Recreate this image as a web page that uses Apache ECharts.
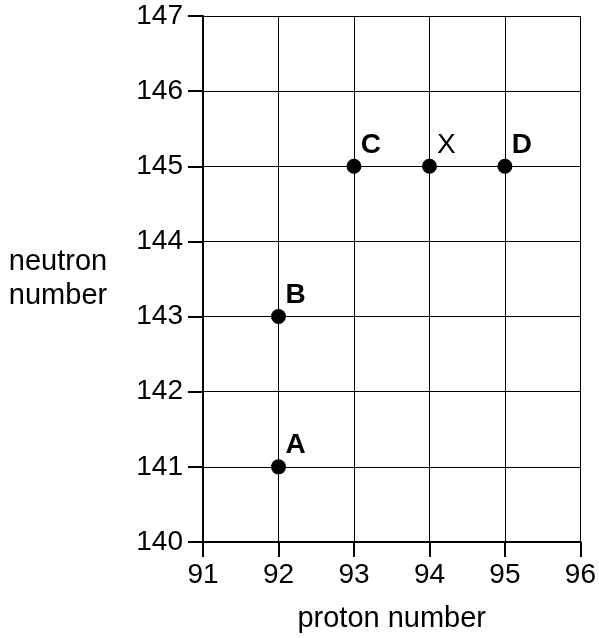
<!DOCTYPE html>
<html>
<head>
<meta charset="utf-8">
<script src="https://cdn.jsdelivr.net/npm/echarts@6/dist/echarts.min.js"></script>
<style>
  html, body { margin: 0; padding: 0; background: #fff; }
  #chart { width: 599px; height: 638px; }
</style>
</head>
<body>
<div id="chart"></div>
<script>
const pointNames = ['A', 'B', 'C', 'X', 'D']
const protonNumbers = [92, 92, 93, 94, 95]
const neutronNumbers = [141, 143, 145, 145, 145]
const boldLabels = [true, true, true, false, true]

const font = 'Liberation Sans, Arial, sans-serif'

const chart = echarts.init(document.getElementById('chart'))

// one data item per nuclide, X label is plain weight
const points = pointNames.map((name, i) => ({
  name,
  value: [protonNumbers[i], neutronNumbers[i]],
  label: { fontWeight: boldLabels[i] ? 'bold' : 'normal' }
}))

const axisCommon = {
  type: 'value',
  interval: 1,
  axisLine: { show: true, lineStyle: { color: '#000', width: 2 } },
  axisTick: { show: true, length: 15, lineStyle: { color: '#000', width: 2 } },
  axisLabel: { color: '#000', fontSize: 28, fontFamily: font },
  splitLine: { show: true, lineStyle: { color: '#000', width: 1 } },
  nameTextStyle: { color: '#000', fontSize: 29, fontFamily: font }
}

chart.setOption({
  animation: false,
  grid: { left: 203, right: 18, top: 16, bottom: 95 },
  xAxis: {
    ...axisCommon,
    min: 91,
    max: 96,
    name: 'proton number',
    nameLocation: 'middle',
    nameGap: 62,
    axisLabel: { ...axisCommon.axisLabel, margin: 19 }
  },
  yAxis: {
    ...axisCommon,
    min: 140,
    max: 147,
    name: 'neutron\nnumber',
    nameLocation: 'middle',
    nameRotate: 0,
    nameGap: 145,
    nameTextStyle: { ...axisCommon.nameTextStyle, align: 'center', lineHeight: 34 },
    axisLabel: { ...axisCommon.axisLabel, margin: 20 }
  },
  series: [{
    type: 'scatter',
    data: points,
    symbol: 'circle',
    symbolSize: 15,
    itemStyle: { color: '#000', opacity: 1 },
    label: {
      show: true,
      position: 'top',
      distance: 0,
      offset: [17, 0],
      formatter: '{b}',
      color: '#000',
      fontSize: 28,
      fontFamily: font
    }
  }]
})
</script>
</body>
</html>
